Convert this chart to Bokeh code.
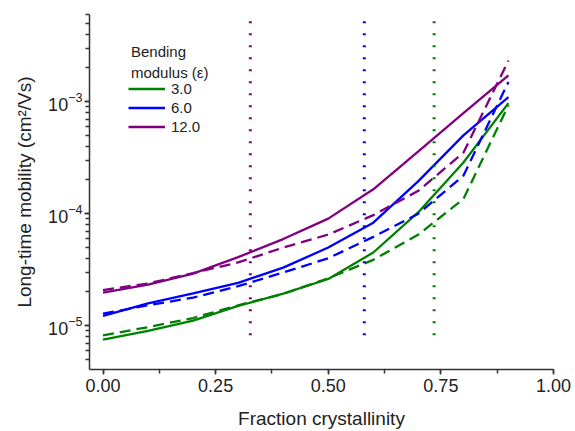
from bokeh.plotting import figure
from bokeh.models import Range1d, Legend, LegendItem, Label, SingleIntervalTicker, PrintfTickFormatter
from bokeh.embed import file_html
from bokeh.resources import INLINE

# ---- data ----
crystallinity = [0.0, 0.1, 0.2, 0.3, 0.4, 0.5, 0.6, 0.7, 0.8, 0.9]

green_solid = [7.5e-6, 9.0e-6, 1.11e-5, 1.50e-5, 1.93e-5, 2.61e-5, 4.5e-5, 1.03e-4, 2.86e-4, 9.7e-4]
green_dashed = [8.2e-6, 9.7e-6, 1.17e-5, 1.52e-5, 1.92e-5, 2.65e-5, 3.87e-5, 6.5e-5, 1.35e-4, 9.3e-4]

blue_solid = [1.22e-5, 1.58e-5, 1.94e-5, 2.41e-5, 3.3e-5, 4.98e-5, 8.3e-5, 1.95e-4, 5.0e-4, 1.1e-3]
blue_dashed = [1.28e-5, 1.52e-5, 1.78e-5, 2.25e-5, 2.98e-5, 4.0e-5, 6.2e-5, 1.0e-4, 2.18e-4, 1.5e-3]

purple_solid = [1.97e-5, 2.33e-5, 2.91e-5, 4.09e-5, 5.93e-5, 9.03e-5, 1.65e-4, 3.6e-4, 7.9e-4, 1.72e-3]
purple_dashed = [2.08e-5, 2.38e-5, 2.95e-5, 3.67e-5, 4.98e-5, 6.5e-5, 9.7e-5, 1.6e-4, 3.5e-4, 2.33e-3]

legend_labels = ["3.0", "6.0", "12.0"]
legend_title = ["Bending", "modulus (\u03b5)"]
colors = ["#008000", "#0000ff", "#800080"]

# vertical dotted markers (fraction crystallinity), ordered green, blue, purple
vline_x = [0.735, 0.580, 0.327]
vline_y = [8.2e-6, 5.8e-3]

x_ticks_interval = 0.25

FONT = "Liberation Sans"

p = figure(width=575, height=431, output_backend="svg", toolbar_location=None,
           y_axis_type="log",
           x_range=Range1d(-0.03, 1.0), y_range=Range1d(4.06e-6, 6.0e-3),
           min_border_left=89, min_border_right=22, min_border_top=14, min_border_bottom=58)

p.outline_line_color = None
p.xgrid.visible = False
p.ygrid.visible = False

series = [(green_solid, green_dashed), (blue_solid, blue_dashed), (purple_solid, purple_dashed)]
solid_renderers = []
for (s, d), c in zip(series, colors):
    r = p.line(crystallinity, s, line_color=c, line_width=2.3)
    p.line(crystallinity, d, line_color=c, line_width=2.3, line_dash="11 6")
    solid_renderers.append(r)

for xv, c in zip(vline_x, colors):
    p.line([xv, xv], vline_y, line_color=c, line_width=3, line_dash="2 10")

# axes styling
p.xaxis.ticker = SingleIntervalTicker(interval=x_ticks_interval, num_minor_ticks=2)
p.xaxis.formatter = PrintfTickFormatter(format="%.2f")
for ax in (p.xaxis[0], p.yaxis[0]):
    ax.axis_line_color = "#333333"
    ax.axis_line_width = 1.5
    ax.major_tick_line_color = "#333333"
    ax.minor_tick_line_color = "#333333"
    ax.major_tick_line_width = 1.5
    ax.minor_tick_line_width = 1.5
    ax.major_tick_in = 0
    ax.major_tick_out = 5
    ax.minor_tick_in = 0
    ax.minor_tick_out = 4
    ax.major_label_text_font = FONT
    ax.major_label_text_font_size = "18px"
    ax.major_label_text_color = "#222222"
    ax.axis_label_text_font = FONT
    ax.axis_label_text_font_size = "19px"
    ax.axis_label_text_font_style = "normal"
    ax.axis_label_text_color = "#222222"

p.xaxis.axis_label = "Fraction crystallinity"
p.yaxis.axis_label = "Long-time mobility (cm\u00b2/Vs)"
p.xaxis.major_label_standoff = 4
p.xaxis.axis_label_standoff = 13
p.yaxis.major_label_standoff = 2
p.yaxis.axis_label_standoff = 10

legend = Legend(items=[LegendItem(label=lab, renderers=[r]) for lab, r in zip(legend_labels, solid_renderers)],
                location=(39, 234), padding=0, margin=0, spacing=2,
                glyph_width=37, glyph_height=15, label_height=15, label_standoff=6,
                label_text_font=FONT, label_text_font_size="15px", label_text_color="#222222",
                border_line_color=None, background_fill_alpha=0)
p.add_layout(legend)

title_y = [2.8e-3, 1.83e-3]
for txt, yv in zip(legend_title, title_y):
    p.add_layout(Label(x=0.062, y=yv, text=txt, text_font=FONT, text_font_size="15px",
                       text_color="#222222", text_baseline="middle"))

open("out.html", "w").write(file_html(p, INLINE))
